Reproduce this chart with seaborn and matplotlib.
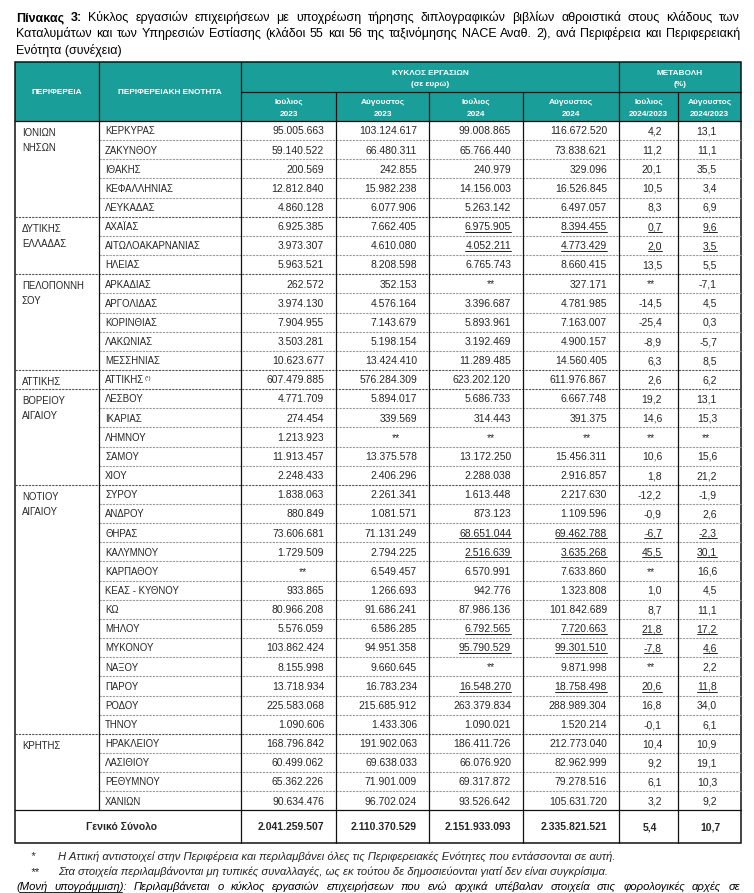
import matplotlib
matplotlib.use('Agg')
import matplotlib.pyplot as plt
from matplotlib.patches import Rectangle
import seaborn as sns

sns.set_theme(style='white')
plt.rcParams['font.family'] = ['Liberation Sans', 'DejaVu Sans']

# ---- data -------------------------------------------------------------------

regions = ['ΙΟΝΙΩΝ\nΝΗΣΩΝ', 'ΔΥΤΙΚΗΣ\nΕΛΛΑΔΑΣ', 'ΠΕΛΟΠΟΝΝΗ\nΣΟΥ', 'ΑΤΤΙΚΗΣ',
           'ΒΟΡΕΙΟΥ\nΑΙΓΑΙΟΥ', 'ΝΟΤΙΟΥ\nΑΙΓΑΙΟΥ', 'ΚΡΗΤΗΣ']
region_sizes = [5, 3, 5, 1, 5, 13, 4]

units = ['ΚΕΡΚΥΡΑΣ', 'ΖΑΚΥΝΘΟΥ', 'ΙΘΑΚΗΣ', 'ΚΕΦΑΛΛΗΝΙΑΣ', 'ΛΕΥΚΑΔΑΣ',
         'ΑΧΑΪΑΣ', 'ΑΙΤΩΛΟΑΚΑΡΝΑΝΙΑΣ', 'ΗΛΕΙΑΣ',
         'ΑΡΚΑΔΙΑΣ', 'ΑΡΓΟΛΙΔΑΣ', 'ΚΟΡΙΝΘΙΑΣ', 'ΛΑΚΩΝΙΑΣ', 'ΜΕΣΣΗΝΙΑΣ',
         'ΑΤΤΙΚΗΣ',
         'ΛΕΣΒΟΥ', 'ΙΚΑΡΙΑΣ', 'ΛΗΜΝΟΥ', 'ΣΑΜΟΥ', 'ΧΙΟΥ',
         'ΣΥΡΟΥ', 'ΑΝΔΡΟΥ', 'ΘΗΡΑΣ', 'ΚΑΛΥΜΝΟΥ', 'ΚΑΡΠΑΘΟΥ', 'ΚΕΑΣ - ΚΥΘΝΟΥ',
         'ΚΩ', 'ΜΗΛΟΥ', 'ΜΥΚΟΝΟΥ', 'ΝΑΞΟΥ', 'ΠΑΡΟΥ', 'ΡΟΔΟΥ', 'ΤΗΝΟΥ',
         'ΗΡΑΚΛΕΙΟΥ', 'ΛΑΣΙΘΙΟΥ', 'ΡΕΘΥΜΝΟΥ', 'ΧΑΝΙΩΝ']

# None = ** (not published)
jul_2023 = [95005663, 59140522, 200569, 12812840, 4860128,
            6925385, 3973307, 5963521,
            262572, 3974130, 7904955, 3503281, 10623677,
            607479885,
            4771709, 274454, 1213923, 11913457, 2248433,
            1838063, 880849, 73606681, 1729509, None, 933865, 80966208,
            5576059, 103862424, 8155998, 13718934, 225583068, 1090606,
            168796842, 60499062, 65362226, 90634476]
aug_2023 = [103124617, 66480311, 242855, 15982238, 6077906,
            7662405, 4610080, 8208598,
            352153, 4576164, 7143679, 5198154, 13424410,
            576284309,
            5894017, 339569, None, 13375578, 2406296,
            2261341, 1081571, 71131249, 2794225, 6549457, 1266693, 91686241,
            6586285, 94951358, 9660645, 16783234, 215685912, 1433306,
            191902063, 69638033, 71901009, 96702024]
jul_2024 = [99008865, 65766440, 240979, 14156003, 5263142,
            6975905, 4052211, 6765743,
            None, 3396687, 5893961, 3192469, 11289485,
            623202120,
            5686733, 314443, None, 13172250, 2288038,
            1613448, 873123, 68651044, 2516639, 6570991, 942776, 87986136,
            6792565, 95790529, None, 16548270, 263379834, 1090021,
            186411726, 66076920, 69317872, 93526642]
aug_2024 = [116672520, 73838621, 329096, 16526845, 6497057,
            8394455, 4773429, 8660415,
            327171, 4781985, 7163007, 4900157, 14560405,
            611976867,
            6667748, 391375, None, 15456311, 2916857,
            2217630, 1109596, 69462788, 3635268, 7633860, 1323808, 101842689,
            7720663, 99301510, 9871998, 18758498, 288989304, 1520214,
            212773040, 82962999, 79278516, 105631720]
chg_jul = [4.2, 11.2, 20.1, 10.5, 8.3,
           0.7, 2.0, 13.5,
           None, -14.5, -25.4, -8.9, 6.3,
           2.6,
           19.2, 14.6, None, 10.6, 1.8,
           -12.2, -0.9, -6.7, 45.5, None, 1.0, 8.7,
           21.8, -7.8, None, 20.6, 16.8, -0.1,
           10.4, 9.2, 6.1, 3.2]
chg_aug = [13.1, 11.1, 35.5, 3.4, 6.9,
           9.6, 3.5, 5.5,
           -7.1, 4.5, 0.3, -5.7, 8.5,
           6.2,
           13.1, 15.3, None, 15.6, 21.2,
           -1.9, 2.6, -2.3, 30.1, 16.6, 4.5, 11.1,
           17.2, 4.6, 2.2, 11.8, 34.0, 6.1,
           10.9, 19.1, 10.3, 9.2]

total_label = 'Γενικό Σύνολο'
totals_eur = [2041259507, 2110370529, 2151933093, 2335821521]
totals_chg = [5.4, 10.7]

# rows whose 2024 figures are provisional (single underline)
underlined = ['ΑΧΑΪΑΣ', 'ΑΙΤΩΛΟΑΚΑΡΝΑΝΙΑΣ', 'ΘΗΡΑΣ', 'ΚΑΛΥΜΝΟΥ', 'ΜΗΛΟΥ',
              'ΜΥΚΟΝΟΥ', 'ΠΑΡΟΥ']

title_lines = [
    'Πίνακας 3: Κύκλος εργασιών επιχειρήσεων με υποχρέωση τήρησης διπλογραφικών '
    'βιβλίων αθροιστικά στους κλάδους των',
    'Καταλυμάτων και των Υπηρεσιών Εστίασης (κλάδοι 55 και 56 της ταξινόμησης '
    'NACE Αναθ. 2), ανά Περιφέρεια και Περιφερειακή',
    'Ενότητα (συνέχεια)',
]
notes = [
    ('*', 'Η Αττική αντιστοιχεί στην Περιφέρεια και περιλαμβάνει όλες τις '
          'Περιφερειακές Ενότητες που εντάσσονται σε αυτή.'),
    ('**', 'Στα στοιχεία περιλαμβάνονται μη τυπικές συναλλαγές, ως εκ τούτου δε '
           'δημοσιεύονται γιατί δεν είναι συγκρίσιμα.'),
]
last_note = ('(Μονή υπογράμμιση): Περιλαμβάνεται ο κύκλος εργασιών επιχειρήσεων '
             'που ενώ αρχικά υπέβαλαν στοιχεία στις φορολογικές αρχές σε')


def fmt_eur(v):
    return '**' if v is None else f'{v:,}'.replace(',', '.')


def fmt_pct(v):
    return '**' if v is None else f'{v:.1f}'.replace('.', ',')


# ---- layout -----------------------------------------------------------------

W, H = 754, 893
TEAL = '#1a9e99'
xs = [15, 99, 241, 336, 429, 523, 619, 678, 741]
top, mid, hbot = 62, 92, 121
pitch = 19.15
n = len(units)
body_bot = hbot + n * pitch
tot_bot = 843

fig = plt.figure(figsize=(W / 100, H / 100), dpi=100)
ax = fig.add_axes([0, 0, 1, 1])
ax.set_xlim(0, W)
ax.set_ylim(H, 0)
ax.axis('off')
renderer = fig.canvas.get_renderer()


def extent(t):
    bb = t.get_window_extent(renderer)
    (x0, y0), (x1, y1) = ax.transData.inverted().transform([[bb.x0, bb.y0], [bb.x1, bb.y1]])
    return x0, x1


def fit(text, width, weight='normal', style='normal'):
    t = ax.text(0, 0, text, fontsize=10, fontweight=weight, fontstyle=style)
    x0, x1 = extent(t)
    t.remove()
    return 10 * width / (x1 - x0)


def justify(y, words, x0, x1, size, styles=None, style='normal'):
    texts = []
    for i, w in enumerate(words):
        wt = styles[i] if styles else 'normal'
        texts.append(ax.text(0, y, w, fontsize=size, fontweight=wt, fontstyle=style,
                             va='baseline', ha='left', color='black'))
    widths = [extent(t)[1] - extent(t)[0] for t in texts]
    gap = (x1 - x0 - sum(widths)) / (len(texts) - 1)
    x = x0
    for t, w in zip(texts, widths):
        t.set_x(x)
        x += w + gap
    return texts


fs_title = fit(title_lines[1], 712)
fs_num = fit('95.005.663', 52)
fs_name = fit('ΑΙΤΩΛΟΑΚΑΡΝΑΝΙΑΣ', 97)
fs_head = fit('ΠΕΡΙΦΕΡΕΙΑΚΗ ΕΝΟΤΗΤΑ', 104, weight='bold')
fs_note = fit(notes[0][1], 560, style='italic')

# title
for i, line in enumerate(title_lines):
    words = line.split(' ')
    y = 17 + i * 16.3 + 4
    wts = ['bold' if (i == 0 and k < 2) else 'normal' for k in range(len(words))]
    if i < 2:
        justify(y, words, 16, 740, fs_title, wts)
    else:
        ax.text(16, y, line, fontsize=fs_title, va='baseline', ha='left', color='black')

# header block
ax.add_patch(Rectangle((xs[0], top), xs[-1] - xs[0], hbot - top, color=TEAL, lw=0))
hdr = dict(color='white', fontweight='bold', fontsize=fs_head, ha='center', va='baseline')
ax.text((xs[0] + xs[1]) / 2, 94, 'ΠΕΡΙΦΕΡΕΙΑ', **hdr)
ax.text((xs[1] + xs[2]) / 2, 94, 'ΠΕΡΙΦΕΡΕΙΑΚΗ ΕΝΟΤΗΤΑ', **hdr)
ax.text((xs[2] + xs[6]) / 2, 75, 'ΚΥΚΛΟΣ ΕΡΓΑΣΙΩΝ', **hdr)
ax.text((xs[2] + xs[6]) / 2, 86.5, '(σε ευρώ)', **hdr)
ax.text((xs[6] + xs[8]) / 2, 75, 'ΜΕΤΑΒΟΛΗ', **hdr)
ax.text((xs[6] + xs[8]) / 2, 86.5, '(%)', **hdr)
sub_heads = [('Ιούλιος', '2023'), ('Αύγουστος', '2023'), ('Ιούλιος', '2024'),
             ('Αύγουστος', '2024'), ('Ιούλιος', '2024/2023'), ('Αύγουστος', '2024/2023')]
for c, (a, b) in enumerate(sub_heads):
    cx = (xs[c + 2] + xs[c + 3]) / 2
    ax.text(cx, 104, a, **hdr)
    ax.text(cx, 115.5, b, **hdr)

lk = dict(color='#111111', lw=0.9)
ax.plot([xs[2], xs[8]], [mid, mid], **lk)
for x in (xs[1], xs[2], xs[6]):
    ax.plot([x, x], [top, hbot], **lk)
for x in (xs[3], xs[4], xs[5], xs[7]):
    ax.plot([x, x], [mid, hbot], **lk)
ax.plot([xs[0], xs[8]], [hbot, hbot], **lk)

# body rows
starts = []
s = 0
for size in region_sizes:
    starts.append(s)
    s += size

for r in range(1, n):
    y = hbot + r * pitch
    if r in starts:
        ax.plot([xs[0], xs[8]], [y, y], color='#555555', lw=0.8, ls=(0, (2, 1)))
    else:
        ax.plot([xs[1], xs[8]], [y, y], color='#9a9a9a', lw=0.8, ls=(0, (2, 1)))

for name, s0 in zip(regions, starts):
    yc = hbot + (s0 + 0.5) * pitch
    for k, part in enumerate(name.split('\n')):
        ax.text(22, yc + 5.5 + k * 15, part, fontsize=fs_name, va='baseline', ha='left')

cols = [(jul_2023, fmt_eur), (aug_2023, fmt_eur), (jul_2024, fmt_eur),
        (aug_2024, fmt_eur), (chg_jul, fmt_pct), (chg_aug, fmt_pct)]
pads = [12, 12, 12, 12, 16, 24]
star_pads = [29, 29, 28, 28, 23, 31]
for r in range(n):
    yb = hbot + (r + 0.5) * pitch + 3.8
    t = ax.text(105, yb, units[r], fontsize=fs_name, va='baseline', ha='left')
    if units[r] == 'ΑΤΤΙΚΗΣ':
        ax.text(extent(t)[1] + 0.5, yb - 3.5, '(*)', fontsize=fs_name * 0.65,
                va='baseline', ha='left')
    for c, (vals, f) in enumerate(cols):
        v = vals[r]
        pad = pads[c] if v is not None else star_pads[c]
        t = ax.text(xs[c + 3] - pad, yb, f(v), fontsize=fs_num, va='baseline', ha='right')
        if units[r] in underlined and c >= 2 and v is not None:
            x0, x1 = extent(t)
            ax.plot([x0, x1], [yb + 1.8, yb + 1.8], color='black', lw=0.6)

# total row
ax.plot([xs[0], xs[8]], [body_bot, body_bot], **lk)
ty = (body_bot + tot_bot) / 2 + 3.8
ax.text((xs[0] + xs[2]) / 2 - 6, ty, total_label, fontsize=fs_num, fontweight='bold',
        va='baseline', ha='center')
for c, v in enumerate(totals_eur):
    ax.text(xs[c + 3] - 12, ty, fmt_eur(v), fontsize=fs_num, fontweight='bold',
            va='baseline', ha='right')
for c, v in enumerate(totals_chg):
    ax.text((xs[c + 6] + xs[c + 7]) / 2 + 1, ty, fmt_pct(v), fontsize=fs_num,
            fontweight='bold', va='baseline', ha='center')

# vertical rules + outer frame
for x in xs[1:-1]:
    y1 = body_bot if x == xs[1] else tot_bot
    ax.plot([x, x], [hbot, y1], **lk)
ax.add_patch(Rectangle((xs[0], top), xs[-1] - xs[0], tot_bot - top, fill=False,
                       ec='#111111', lw=1.1))

# footnotes
for i, (mark, text) in enumerate(notes):
    y = 856 + i * 15.5 + 3.5
    ax.text(30, y, mark, fontsize=fs_note, fontstyle='italic', va='baseline', ha='left')
    ax.text(58, y, text, fontsize=fs_note, fontstyle='italic', va='baseline', ha='left')
words = last_note.split(' ')
tw = justify(887 + 3, words, 16, 740, fs_note, style='italic')
x0 = extent(tw[0])[0]
x1 = extent(tw[1])[1]
ax.plot([x0 + 3, x1 - 5], [887 + 4.8, 887 + 4.8], color='black', lw=0.6)

fig.savefig('out.png', dpi=100)
